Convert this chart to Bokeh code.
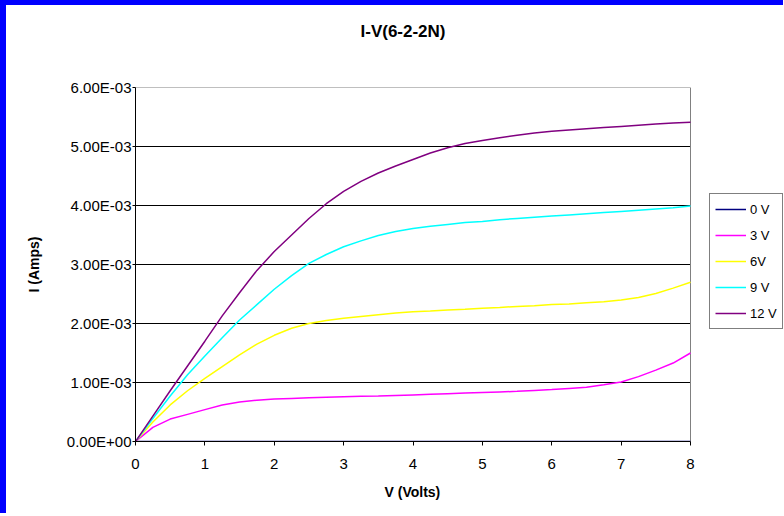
import numpy as np
from bokeh.plotting import figure
from bokeh.models import Legend, LegendItem, FixedTicker, CustomJSTickFormatter, Title, Range1d
from bokeh.layouts import column
from bokeh.embed import file_html
from bokeh.resources import INLINE

# ---- data (current in mA, converted to A below) ----
volts = [0, 0.25, 0.5, 0.75, 1.0, 1.25, 1.5, 1.75, 2.0, 2.25, 2.5, 2.75, 3.0,
         3.25, 3.5, 3.75, 4.0, 4.25, 4.5, 4.75, 5.0, 5.25, 5.5, 5.75, 6.0,
         6.25, 6.5, 6.75, 7.0, 7.25, 7.5, 7.75, 8.0]

i_0v_mA = [0.0] * 33
i_3v_mA = [0, 0.24, 0.38, 0.46, 0.54, 0.62, 0.67, 0.70, 0.72, 0.73, 0.74, 0.75, 0.76,
           0.765, 0.77, 0.78, 0.79, 0.80, 0.81, 0.82, 0.83, 0.84, 0.85, 0.865, 0.88,
           0.90, 0.92, 0.96, 1.01, 1.10, 1.21, 1.33, 1.50]
i_6v_mA = [0, 0.33, 0.62, 0.86, 1.07, 1.27, 1.47, 1.65, 1.80, 1.92, 2.00, 2.05, 2.09,
           2.12, 2.15, 2.18, 2.20, 2.21, 2.23, 2.24, 2.26, 2.27, 2.29, 2.30, 2.32,
           2.33, 2.35, 2.37, 2.40, 2.44, 2.51, 2.60, 2.70]
i_9v_mA = [0, 0.39, 0.77, 1.13, 1.45, 1.76, 2.06, 2.32, 2.58, 2.81, 3.02, 3.17, 3.30,
           3.40, 3.49, 3.56, 3.61, 3.65, 3.68, 3.71, 3.73, 3.76, 3.78, 3.80, 3.82,
           3.84, 3.86, 3.88, 3.90, 3.92, 3.94, 3.96, 3.99]
i_12v_mA = [0, 0.43, 0.86, 1.28, 1.70, 2.13, 2.52, 2.90, 3.22, 3.50, 3.78, 4.03, 4.24,
            4.41, 4.55, 4.67, 4.78, 4.89, 4.98, 5.05, 5.10, 5.15, 5.19, 5.23, 5.26,
            5.28, 5.30, 5.32, 5.34, 5.36, 5.38, 5.40, 5.41]

series_labels = ["0 V", "3 V", "6V", "9 V", "12 V"]
series_colors = ["#000080", "#FF00FF", "#FFFF00", "#00FFFF", "#800080"]
series_values = [i_0v_mA, i_3v_mA, i_6v_mA, i_9v_mA, i_12v_mA]

x_ticks = [0, 1, 2, 3, 4, 5, 6, 7, 8]
y_ticks = [0, 0.001, 0.002, 0.003, 0.004, 0.005, 0.006]

FONT = "Liberation Sans"

# frame extends to the right edge of the canvas so that the legend can sit beside the plot area
FRAME_W = 648
PLOT_W = 555
x_end = x_ticks[-1] * FRAME_W / PLOT_W

p = figure(frame_width=FRAME_W, frame_height=354,
           x_range=Range1d(x_ticks[0], x_end), y_range=Range1d(y_ticks[0], y_ticks[-1]),
           output_backend="svg", toolbar_location=None, title=None,
           min_border_left=129, min_border_top=82, min_border_right=0, min_border_bottom=60,
           background_fill_color="white", border_fill_color="white")
p.outline_line_color = None
p.xgrid.visible = False
p.ygrid.visible = False

# horizontal gridlines (only across the plot area) and plot-area border
grid_y = y_ticks[1:-1]
p.segment(x0=x_ticks[0], x1=x_ticks[-1], y0=grid_y, y1=grid_y,
          line_color="black", line_width=1, level="underlay")
p.segment(x0=x_ticks[0], x1=x_ticks[-1], y0=y_ticks[-1], y1=y_ticks[-1],
          line_color="#808080", line_width=1, level="underlay")
p.segment(x0=x_ticks[-1], x1=x_ticks[-1], y0=y_ticks[0], y1=y_ticks[-1],
          line_color="#808080", line_width=1, level="underlay")

renderers = []
for vals, col in zip(series_values, series_colors):
    r = p.line(volts, np.array(vals) * 1e-3, line_color=col, line_width=1.5)
    renderers.append(r)

# title (spacer nearest the frame, then the real title)
spacer_top = Title(text=" ", text_font_size="1px", standoff=43)
p.add_layout(spacer_top, "above")
main_title = Title(text="I-V(6-2-2N)", align="left", offset=225, standoff=0,
                   vertical_align="middle", text_font=FONT, text_font_size="17px",
                   text_font_style="bold", text_color="black")
p.add_layout(main_title, "above")

# axes
for ax in (p.xaxis[0], p.yaxis[0]):
    ax.axis_line_color = "black"
    ax.major_tick_line_color = "black"
    ax.major_tick_in = 0
    ax.minor_tick_line_color = None
    ax.major_label_text_font = FONT
    ax.major_label_text_font_size = "15px"
    ax.major_label_text_color = "black"
    ax.axis_label_text_font = FONT
    ax.axis_label_text_font_size = "14px"
    ax.axis_label_text_font_style = "bold"
    ax.axis_label_text_color = "black"

p.xaxis.ticker = FixedTicker(ticks=x_ticks)
p.xaxis.bounds = (x_ticks[0], x_ticks[-1])
p.xaxis.major_tick_out = 4
p.xaxis.major_label_standoff = 13

x_title = Title(text="V (Volts)", align="left", offset=249, standoff=24,
                vertical_align="top", text_font=FONT, text_font_size="14px",
                text_font_style="bold", text_color="black")
p.add_layout(x_title, "below")

p.yaxis.ticker = FixedTicker(ticks=y_ticks)
p.yaxis.formatter = CustomJSTickFormatter(code="""
    const s = tick.toExponential(2);
    const parts = s.split('e');
    let n = parseInt(parts[1]);
    const sign = n < 0 ? '-' : '+';
    n = Math.abs(n);
    return parts[0] + 'E' + sign + (n < 10 ? '0' : '') + n;
""")
p.yaxis.axis_label = "I (Amps)"
p.yaxis.major_tick_out = 3
p.yaxis.major_label_standoff = 1
p.yaxis.axis_label_standoff = 22

# legend (inside the extended frame, right of the plot area)
items = [LegendItem(label=lab, renderers=[r]) for lab, r in zip(series_labels, renderers)]
legend = Legend(items=items, location=(574, 112))
legend.label_text_font = FONT
legend.label_text_font_size = "13px"
legend.label_text_color = "black"
legend.glyph_width = 31
legend.glyph_height = 20
legend.label_height = 20
legend.label_standoff = 4
legend.spacing = 6
legend.padding = 5
legend.margin = 0
legend.border_line_color = "black"
legend.border_line_width = 1
legend.background_fill_color = "white"
legend.background_fill_alpha = 1
p.add_layout(legend)

layout = column(p, styles={"border-left": "6px solid #0000FF",
                           "border-top": "5px solid #0000FF"})

open("out.html", "w").write(file_html(layout, INLINE))
